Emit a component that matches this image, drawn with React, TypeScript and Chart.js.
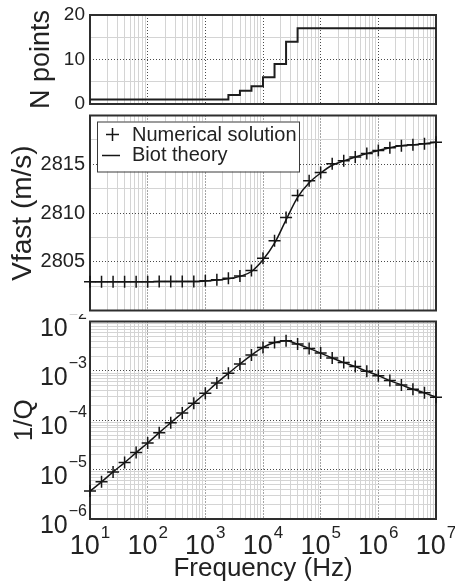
import React, { useEffect, useRef } from 'react';
import { Chart, registerables } from 'chart.js';

Chart.register(...registerables);

const FONT = '"Liberation Sans", Arial, Helvetica, sans-serif';
const TEXT = '#222222';
const INK = '#151515';

// ---- data ----
const frequencies = [
  10, 15.85, 25.12, 39.81, 63.1,
  100, 158.5, 251.2, 398.1, 631,
  1000, 1585, 2512, 3981, 6310,
  10000, 15850, 25120, 39810, 63100,
  100000, 158500, 251200, 398100, 631000,
  1000000, 1585000, 2512000, 3981000, 6310000,
  10000000,
];

const nPoints = [
  1, 1, 1, 1, 1, 1, 1, 1, 1, 1, 1, 1,
  2, 3, 4, 6, 9, 14,
  17, 17, 17, 17, 17, 17, 17, 17, 17, 17, 17, 17, 17,
];

const vfastNumerical = [
  2802.95, 2802.95, 2802.95, 2802.95, 2802.95, 2802.95, 2802.97, 2802.97,
  2802.97, 2802.97, 2803.05, 2803.15, 2803.3, 2803.55, 2804.1, 2805.35,
  2807.15, 2809.55, 2811.8, 2813.3, 2814.15, 2815.05, 2815.35, 2815.75,
  2816.1, 2816.4, 2816.7, 2816.9, 2817.0, 2817.1, 2817.25,
];

const vfastBiot = [
  2802.95, 2802.95, 2802.95, 2802.95, 2802.95, 2802.95, 2802.97, 2802.97,
  2802.97, 2802.97, 2803.03, 2803.12, 2803.25, 2803.5, 2804.0, 2805.2,
  2806.9, 2809.3, 2811.6, 2813.1, 2814.1, 2814.9, 2815.35, 2815.75,
  2816.1, 2816.4, 2816.7, 2816.9, 2817.0, 2817.1, 2817.25,
];

const invQNumerical = [
  3.67e-6, 5.66e-6, 9.0e-6, 1.39e-5, 2.21e-5, 3.47e-5, 5.6e-5, 8.9e-5,
  1.4e-4, 2.22e-4, 3.53e-4, 5.7e-4, 8.9e-4, 1.38e-3, 2.09e-3, 2.99e-3,
  3.77e-3, 4.07e-3, 3.49e-3, 2.85e-3, 2.29e-3, 1.82e-3, 1.47e-3, 1.22e-3,
  9.8e-4, 8.0e-4, 6.35e-4, 5.2e-4, 4.25e-4, 3.59e-4, 2.93e-4,
];

const invQBiot = invQNumerical;

const nTickLabels = [0, 10, 20];
const vfastTickLabels = [2805, 2810, 2815];
const freqTickExponents = [1, 2, 3, 4, 5, 6, 7];
const invQTickExponents = [-6, -5, -4, -3, -2];

// ---- layout helpers ----
const Y_AXIS_W = 90;
const RIGHT_PAD = 19;

function logGrid(minExp: number, maxExp: number) {
  const out: { value: number; major: boolean }[] = [];
  for (let e = minExp; e < maxExp; e++) {
    for (let m = 1; m <= 9; m++) {
      out.push({ value: m * Math.pow(10, e), major: m === 1 });
    }
  }
  out.push({ value: Math.pow(10, maxExp), major: true });
  return out;
}

function gridOpts(isMajor: (ctx: any) => boolean) {
  return {
    grid: {
      color: (ctx: any) => (isMajor(ctx) ? '#4a4a4a' : '#d4d4d4'),
      lineWidth: 1,
      drawTicks: false,
    },
    border: {
      display: false,
      dash: (ctx: any) => (isMajor(ctx) ? [1, 2] : []),
    },
  };
}

const majorLog = (ctx: any) => !!(ctx && ctx.tick && ctx.tick.major);

function noPad(s: any) {
  s.paddingTop = 0;
  s.paddingBottom = 0;
  s.paddingLeft = 0;
  s.paddingRight = 0;
}

function freqAxis(showLabels: boolean) {
  return {
    type: 'logarithmic',
    min: 10,
    max: 1e7,
    afterBuildTicks: (s: any) => {
      s.ticks = logGrid(1, 7);
    },
    afterFit: (s: any) => {
      s.height = showLabels ? 67 : 0;
      noPad(s);
    },
    ticks: { display: false, autoSkip: false },
    title: showLabels
      ? {
          display: true,
          text: 'Frequency (Hz)',
          color: TEXT,
          font: { family: FONT, size: 26 },
          padding: { top: 0, bottom: 2 },
        }
      : { display: false },
    ...gridOpts(majorLog),
  };
}

const framePlugin = {
  id: 'frame',
  beforeDatasetsDraw(chart: any) {
    const { ctx, chartArea: a } = chart;
    ctx.save();
    ctx.strokeStyle = '#2e2e2e';
    ctx.lineWidth = 2;
    ctx.strokeRect(a.left, a.top, a.right - a.left, a.bottom - a.top);
    ctx.restore();
  },
};

function drawPower(
  ctx: CanvasRenderingContext2D,
  exp: number,
  anchorX: number,
  baseY: number,
  baseSize: number,
  supSize: number,
  supRise: number,
  align: 'center' | 'right'
) {
  const baseTxt = '10';
  const supTxt = exp < 0 ? '\u2212' + Math.abs(exp) : String(exp);
  ctx.font = `${baseSize}px ${FONT}`;
  const wBase = ctx.measureText(baseTxt).width;
  ctx.font = `${supSize}px ${FONT}`;
  const wSup = ctx.measureText(supTxt).width;
  const gap = 1;
  const total = wBase + gap + wSup;
  const startX = align === 'center' ? anchorX - total / 2 : anchorX - total;
  ctx.textAlign = 'left';
  ctx.textBaseline = 'alphabetic';
  ctx.fillStyle = TEXT;
  ctx.font = `${baseSize}px ${FONT}`;
  ctx.fillText(baseTxt, startX, baseY);
  ctx.font = `${supSize}px ${FONT}`;
  ctx.fillText(supTxt, startX + wBase + gap, baseY - supRise);
}

const powerLabelsPlugin = {
  id: 'powerLabels',
  afterDraw(chart: any) {
    const { ctx, chartArea: a, scales } = chart;
    ctx.save();
    freqTickExponents.forEach((e) => {
      const px = scales.x.getPixelForValue(Math.pow(10, e));
      drawPower(ctx, e, px, a.bottom + 35, 27, 17, 16, 'center');
    });
    invQTickExponents.forEach((e) => {
      const py = scales.y.getPixelForValue(Math.pow(10, e));
      drawPower(ctx, e, a.left - 3, py + 14, 25, 16, 17, 'right');
    });
    ctx.restore();
  },
};

const legendBoxPlugin = {
  id: 'legendBox',
  afterDatasetsDraw(chart: any) {
    const { ctx, chartArea: a } = chart;
    const ds = chart.data.datasets;
    const bx = a.left + 7;
    const by = a.top + 6;
    ctx.save();
    ctx.fillStyle = '#ffffff';
    ctx.fillRect(bx, by, 202, 50);
    ctx.strokeStyle = '#3a3a3a';
    ctx.lineWidth = 1;
    ctx.strokeRect(bx + 0.5, by + 0.5, 202, 50);
    ctx.strokeStyle = INK;
    ctx.lineWidth = 1.5;
    const cx = bx + 15.5;
    const cy = by + 13;
    ctx.beginPath();
    ctx.moveTo(cx - 6.5, cy);
    ctx.lineTo(cx + 6.5, cy);
    ctx.moveTo(cx, cy - 6.5);
    ctx.lineTo(cx, cy + 6.5);
    ctx.stroke();
    ctx.beginPath();
    ctx.moveTo(bx + 5, by + 34);
    ctx.lineTo(bx + 23, by + 34);
    ctx.stroke();
    ctx.fillStyle = TEXT;
    ctx.font = `20px ${FONT}`;
    ctx.textAlign = 'left';
    ctx.textBaseline = 'alphabetic';
    ctx.fillText(ds[0].label, bx + 35, by + 19.5);
    ctx.fillText(ds[1].label, bx + 35, by + 39.5);
    ctx.restore();
  },
};

function yAxisBase(title: string, titleSize: number, titlePad: number) {
  return {
    afterFit: (s: any) => {
      s.width = Y_AXIS_W;
      noPad(s);
    },
    title: {
      display: true,
      text: title,
      color: TEXT,
      font: { family: FONT, size: titleSize },
      padding: { top: titlePad, bottom: 0 },
    },
  };
}

function buildTop(): any {
  return {
    type: 'line',
    data: {
      datasets: [
        {
          label: 'N points',
          data: frequencies.map((f, i) => ({ x: f, y: nPoints[i] })),
          stepped: 'before',
          borderColor: '#1e1e1e',
          borderWidth: 2,
          pointRadius: 0,
          fill: false,
          clip: false,
        },
      ],
    },
    options: {
      responsive: false,
      animation: false,
      devicePixelRatio: 1,
      layout: { padding: { left: 0, right: RIGHT_PAD, top: 15, bottom: 11 } },
      plugins: { legend: { display: false }, tooltip: { enabled: false } },
      scales: {
        x: freqAxis(false),
        y: {
          type: 'linear',
          min: 0,
          max: 20,
          ticks: {
            stepSize: 5,
            autoSkip: false,
            padding: 5,
            color: TEXT,
            font: { family: FONT, size: 19 },
            callback: (v: any) => (nTickLabels.includes(v) ? String(v) : ''),
          },
          ...yAxisBase('N points', 27, 25),
          ...gridOpts((ctx: any) => !!(ctx && ctx.tick && ctx.tick.value === 10)),
        },
      },
    },
    plugins: [framePlugin],
  };
}

function buildMiddle(): any {
  return {
    type: 'line',
    data: {
      datasets: [
        {
          label: 'Numerical solution',
          data: frequencies.map((f, i) => ({ x: f, y: vfastNumerical[i] })),
          showLine: false,
          pointStyle: 'cross',
          pointRadius: 6,
          pointBorderWidth: 1.5,
          borderColor: INK,
          clip: false,
        },
        {
          label: 'Biot theory',
          data: frequencies.map((f, i) => ({ x: f, y: vfastBiot[i] })),
          borderColor: INK,
          borderWidth: 1.5,
          pointRadius: 0,
          cubicInterpolationMode: 'monotone',
          fill: false,
          clip: false,
        },
      ],
    },
    options: {
      responsive: false,
      animation: false,
      devicePixelRatio: 1,
      layout: { padding: { left: 0, right: RIGHT_PAD, top: 5, bottom: 6 } },
      plugins: { legend: { display: false }, tooltip: { enabled: false } },
      scales: {
        x: freqAxis(false),
        y: {
          type: 'linear',
          min: 2800,
          max: 2820,
          ticks: {
            stepSize: 2.5,
            autoSkip: false,
            padding: 5,
            color: TEXT,
            font: { family: FONT, size: 20 },
            callback: (v: any) => (vfastTickLabels.includes(v) ? String(v) : ''),
          },
          ...yAxisBase('Vfast (m/s)', 28, 6),
          ...gridOpts((ctx: any) => !!(ctx && ctx.tick && ctx.tick.value % 5 === 0)),
        },
      },
    },
    plugins: [framePlugin, legendBoxPlugin],
  };
}

function buildBottom(): any {
  return {
    type: 'line',
    data: {
      datasets: [
        {
          label: 'Numerical solution',
          data: frequencies.map((f, i) => ({ x: f, y: invQNumerical[i] })),
          showLine: false,
          pointStyle: 'cross',
          pointRadius: 6,
          pointBorderWidth: 1.5,
          borderColor: INK,
          clip: false,
        },
        {
          label: 'Biot theory',
          data: frequencies.map((f, i) => ({ x: f, y: invQBiot[i] })),
          borderColor: INK,
          borderWidth: 1.5,
          pointRadius: 0,
          cubicInterpolationMode: 'monotone',
          fill: false,
          clip: false,
        },
      ],
    },
    options: {
      responsive: false,
      animation: false,
      devicePixelRatio: 1,
      layout: { padding: { left: 0, right: RIGHT_PAD, top: 7, bottom: 0 } },
      plugins: { legend: { display: false }, tooltip: { enabled: false } },
      scales: {
        x: freqAxis(true),
        y: {
          type: 'logarithmic',
          min: 1e-6,
          max: 1e-2,
          afterBuildTicks: (s: any) => {
            s.ticks = logGrid(-6, -2);
          },
          ticks: { display: false, autoSkip: false },
          ...yAxisBase('1/Q', 26, 9),
          ...gridOpts(majorLog),
        },
      },
    },
    plugins: [framePlugin, powerLabelsPlugin],
  };
}

function ChartCanvas({ top, height, build }: { top: number; height: number; build: () => any }) {
  const ref = useRef<HTMLCanvasElement>(null);
  useEffect(() => {
    if (!ref.current) return;
    const chart = new Chart(ref.current, build());
    return () => chart.destroy();
  }, []);
  return (
    <canvas
      ref={ref}
      width={455}
      height={height}
      style={{ position: 'absolute', left: 0, top, width: 455, height, display: 'block' }}
    />
  );
}

export default function App() {
  Chart.defaults.font.family = FONT;
  return (
    <div style={{ position: 'absolute', left: 0, top: 0, width: 455, height: 586, background: '#ffffff', overflow: 'hidden' }}>
      <ChartCanvas top={0} height={115} build={buildTop} />
      <ChartCanvas top={108} height={210} build={buildMiddle} />
      <ChartCanvas top={314} height={272} build={buildBottom} />
    </div>
  );
}
